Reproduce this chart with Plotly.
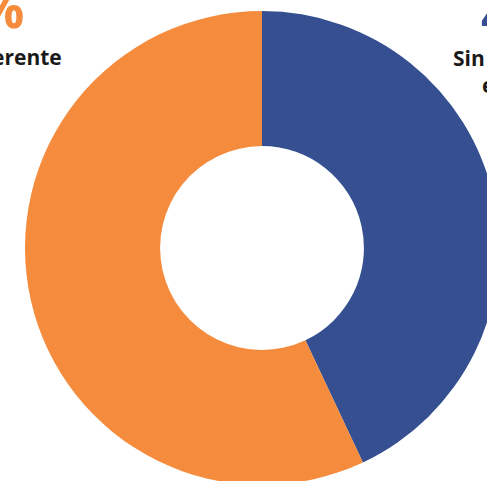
import plotly.graph_objects as go

labels = ["Sin gerente externo", "Diferente"]
values = [43, 57]
colors = ["#354F91", "#F58C3D"]
pct_labels = ["43%", "57%"]

fig = go.Figure(go.Pie(
    labels=labels,
    values=values,
    hole=0.43,
    sort=False,
    direction="clockwise",
    rotation=0,
    marker=dict(colors=colors, line=dict(width=0)),
    textinfo="none",
    hoverinfo="label+percent",
    showlegend=False,
))

big = dict(family="Open Sans", size=52, weight="bold")
small = dict(family="Open Sans", size=21, color="#1a1a1a", weight="bold")

annotations = [
    dict(text=pct_labels[1], x=0.003, y=0.928, xanchor="right", yanchor="bottom",
         font=dict(**big, color=colors[1])),
    dict(text="Diferente", x=0.0823, y=0.869, xanchor="right", yanchor="bottom",
         font=small),
    dict(text=pct_labels[0], x=0.958, y=0.915, xanchor="left", yanchor="bottom",
         font=dict(**big, color=colors[0])),
    dict(text="Sin gerente", x=0.898, y=0.867, xanchor="left", yanchor="bottom",
         font=small),
    dict(text="externo", x=0.960, y=0.810, xanchor="left", yanchor="bottom",
         font=small),
]
for a in annotations:
    a.update(xref="paper", yref="paper", showarrow=False)

fig.update_layout(
    width=510, height=490,
    margin=dict(l=25, r=11, t=11, b=5),
    paper_bgcolor="white",
    plot_bgcolor="white",
    annotations=annotations,
)

fig.write_html(
    "out.html",
    config={"displayModeBar": False},
    post_script=(
        "document.body.style.margin='0';"
        "document.body.style.overflow='hidden';"
        "document.documentElement.style.overflow='hidden';"
    ),
)
